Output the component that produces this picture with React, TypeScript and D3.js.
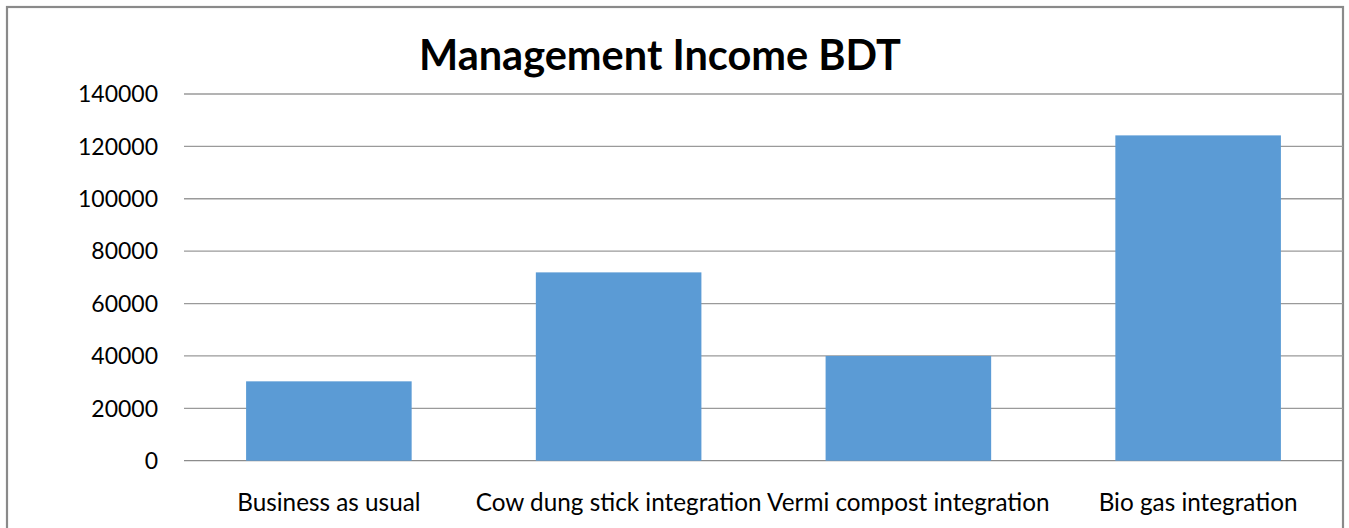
import React, { useEffect, useRef } from "react";
import * as d3 from "d3";

const categories = [
  "Business as usual",
  "Cow dung stick integration",
  "Vermi compost integration",
  "Bio gas integration",
];
const incomeValues = [30300, 71900, 40000, 124200];
const yTicks = [0, 20000, 40000, 60000, 80000, 100000, 120000, 140000];
const chartTitle = "Management Income BDT";

const W = 1349;
const H = 528;
const FONT = "Lato, 'Open Sans', sans-serif";

export default function App() {
  const ref = useRef<SVGSVGElement>(null);

  useEffect(() => {
    document.body.style.margin = "0";
    const svg = d3.select(ref.current);
    svg.selectAll("*").remove();

    const plot = { left: 184, right: 1343, top: 94, bottom: 460.7 };

    const x = d3
      .scaleBand<string>()
      .domain(categories)
      .range([plot.left, plot.right])
      .paddingInner(0.4286)
      .paddingOuter(0.2143);
    const y = d3.scaleLinear().domain([0, 140000]).range([plot.bottom, plot.top]);

    svg.append("rect").attr("x", 0).attr("y", 0).attr("width", W).attr("height", H).attr("fill", "#fff");

    // outer border
    svg
      .append("rect")
      .attr("x", 7)
      .attr("y", 7)
      .attr("width", 1336)
      .attr("height", 540)
      .attr("fill", "none")
      .attr("stroke", "#8a8a8a")
      .attr("stroke-width", 2.2);

    // gridlines
    svg
      .append("g")
      .selectAll("line")
      .data(yTicks)
      .join("line")
      .attr("x1", plot.left)
      .attr("x2", plot.right)
      .attr("y1", (d) => y(d))
      .attr("y2", (d) => y(d))
      .attr("stroke", (d) => (d === 0 ? "#8c8c8c" : "#9a9a9a"))
      .attr("stroke-width", 1.3);

    // tick labels
    svg
      .append("g")
      .selectAll("text")
      .data(yTicks)
      .join("text")
      .attr("x", 158)
      .attr("y", (d) => y(d))
      .attr("dy", "0.36em")
      .attr("text-anchor", "end")
      .attr("font-family", FONT)
      .attr("font-size", 23)
      .attr("fill", "#000")
      .text((d) => String(d));

    // bars
    svg
      .append("g")
      .selectAll("rect")
      .data(incomeValues)
      .join("rect")
      .attr("x", (_, i) => x(categories[i])!)
      .attr("width", x.bandwidth())
      .attr("y", (d) => y(d))
      .attr("height", (d) => y(0) - y(d))
      .attr("fill", "#5b9bd5");

    // category labels
    svg
      .append("g")
      .selectAll("text")
      .data(categories)
      .join("text")
      .attr("x", (d) => x(d)! + x.bandwidth() / 2)
      .attr("y", 510.5)
      .attr("text-anchor", "middle")
      .attr("font-family", FONT)
      .attr("font-size", 24.3)
      .attr("fill", "#000")
      .text((d) => d);

    // title
    svg
      .append("text")
      .attr("x", 660)
      .attr("y", 70)
      .attr("text-anchor", "middle")
      .attr("font-family", FONT)
      .attr("font-weight", "bold")
      .attr("font-size", 41.5)
      .attr("fill", "#000")
      .text(chartTitle);
  }, []);

  return (
    <div style={{ position: "absolute", left: 0, top: 0 }}>
      <svg ref={ref} width={W} height={H} style={{ display: "block" }} />
    </div>
  );
}
